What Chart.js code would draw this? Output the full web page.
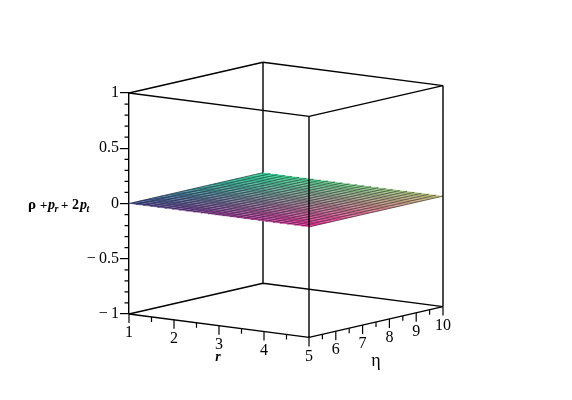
<!DOCTYPE html>
<html>
<head>
<meta charset="utf-8">
<style>html,body{margin:0;padding:0;background:#fff}canvas{display:block}</style>
<script src="https://cdn.jsdelivr.net/npm/chart.js@4"></script>
</head>
<body>
<canvas id="c" width="572" height="400"></canvas>
<script>
// Axis values
const rValues = [1,1.16,1.32,1.48,1.64,1.8,1.96,2.12,2.28,2.44,2.6,2.76,2.92,3.08,3.24,3.4,3.56,3.72,3.88,4.04,4.2,4.36,4.52,4.68,4.84,5];
const etaValues = [5,5.2,5.4,5.6,5.8,6,6.2,6.4,6.6,6.8,7,7.2,7.4,7.6,7.8,8,8.2,8.4,8.6,8.8,9,9.2,9.4,9.6,9.8,10];
// Surface height: flat at zero across the whole r range
const zValues = [0,0,0,0,0,0,0,0,0,0,0,0,0,0,0,0,0,0,0,0,0,0,0,0,0,0];
const rTicks = [1,2,3,4,5];
const rMinorTicks = [1.5,2.5,3.5,4.5];
const etaTicks = [5,6,7,8,9,10];
const etaMinorTicks = [5.5,6.5,7.5,8.5,9.5];
const zTicks = [-1,-0.5,0,0.5,1];
const zMinorTicks = [-0.9,-0.8,-0.7,-0.6,-0.4,-0.3,-0.2,-0.1,0.1,0.2,0.3,0.4,0.6,0.7,0.8,0.9];
const zRange = [-1,1];
const rRange = [1,5];
const etaRange = [5,10];

// Oblique projection of (r, eta, z) on to the chart's two scales
const X_R = 45, X_ETA = 26.8, Y_R = 5.85, Y_ETA = -6.16, PX_PER_Z = 110.5;
const pt = (r, e, z) => ({
  x: (r - 1) * X_R + (e - 5) * X_ETA,
  y: z - ((r - 1) * Y_R + (e - 5) * Y_ETA) / PX_PER_Z
});
const GAP = {x: NaN, y: NaN};
const seg = (a, b) => [a, b, GAP];

const [r0, r1] = rRange, [e0, e1] = etaRange, [z0, z1] = zRange;
const lineDs = (data, width, color) => ({
  type: 'line', data, borderColor: color || '#000', borderWidth: width,
  pointRadius: 0, fill: false, tension: 0, clip: false, spanGaps: false
});

const frontEdges = [
  ...seg(pt(r0,e0,z1), pt(r1,e0,z1)), ...seg(pt(r1,e0,z1), pt(r1,e1,z1)),
  ...seg(pt(r0,e0,z0), pt(r1,e0,z0)), ...seg(pt(r1,e0,z0), pt(r1,e1,z0)),
  ...seg(pt(r0,e0,z1), pt(r0,e1,z1)), ...seg(pt(r0,e1,z1), pt(r1,e1,z1)),
  ...seg(pt(r1,e0,z0), pt(r1,e0,z1)), ...seg(pt(r1,e1,z0), pt(r1,e1,z1))
];
const backEdges = [
  ...seg(pt(r0,e0,z0), pt(r0,e1,z0)), ...seg(pt(r0,e1,z0), pt(r1,e1,z0)),
  ...seg(pt(r0,e1,z0), pt(r0,e1,z1))
];
const TICK = 9 / PX_PER_Z, MINOR = 5 / PX_PER_Z;
const tickMarks = [];
rTicks.forEach(v => { const p = pt(v,e0,z0); tickMarks.push(...seg(p, {x:p.x, y:p.y-TICK})); });
rMinorTicks.forEach(v => { const p = pt(v,e0,z0); tickMarks.push(...seg(p, {x:p.x, y:p.y-MINOR})); });
etaTicks.forEach(v => { const p = pt(r1,v,z0); tickMarks.push(...seg(p, {x:p.x, y:p.y-TICK})); });
etaMinorTicks.forEach(v => { const p = pt(r1,v,z0); tickMarks.push(...seg(p, {x:p.x, y:p.y-MINOR})); });
const axisMinor = [];
zMinorTicks.forEach(v => axisMinor.push(...seg({x:-4.5, y:v}, {x:0, y:v})));

// Surface colour follows position: red with r, green with eta
const C = {ll:[42,52,128], fl:[226,24,140], bl:[20,212,140], fr:[186,186,104]};
function cellColor(u, v) {
  const c = [0,1,2].map(i => Math.round(
    C.ll[i]*(1-u)*(1-v) + C.fl[i]*u*(1-v) + C.bl[i]*(1-u)*v + C.fr[i]*u*v));
  return `rgb(${c[0]},${c[1]},${c[2]})`;
}
const cells = [];
for (let i = 0; i < rValues.length - 1; i++) {
  for (let j = 0; j < etaValues.length - 1; j++) {
    const ra = rValues[i], rb = rValues[i+1], ea = etaValues[j], eb = etaValues[j+1];
    const z = zValues[i];
    const col = cellColor((i+0.5)/(rValues.length-1), (j+0.5)/(etaValues.length-1));
    cells.push({
      type: 'line',
      data: [pt(ra,ea,z), pt(rb,ea,z), pt(rb,eb,z), pt(ra,eb,z), pt(ra,ea,z)],
      backgroundColor: col, fill: 'shape',
      borderColor: col, borderWidth: 0.3,
      pointRadius: 0, tension: 0, clip: false
    });
  }
}
// Wireframe: pale lines along r, dark lines along eta
const meshPale = [], meshDark = [];
etaValues.forEach(e => meshPale.push(...seg(pt(r0,e,0), pt(r1,e,0))));
rValues.forEach(r => meshDark.push(...seg(pt(r,e0,0), pt(r,e1,0))));

const textPlugin = {
  id: 'labels3d',
  afterDraw(chart) {
    const {ctx, scales: {x, y}} = chart;
    const px = p => x.getPixelForValue(p.x), py = p => y.getPixelForValue(p.y);
    ctx.save();
    ctx.fillStyle = '#000';
    ctx.textAlign = 'center';
    ctx.textBaseline = 'middle';
    ctx.font = '16px "Liberation Serif"';
    rTicks.forEach(v => { const p = pt(v,e0,z0); ctx.fillText(String(v), px(p), py(p)+19); });
    etaTicks.slice(1).forEach(v => { const p = pt(r1,v,z0); ctx.fillText(String(v), px(p), py(p)+19); });
    ctx.font = 'italic bold 14px "Liberation Serif"';
    ctx.fillText('r', 218, 357);
    ctx.font = '18px "Liberation Serif"';
    ctx.fillText('η', 376, 361);
    ctx.textAlign = 'left';
    ctx.textBaseline = 'alphabetic';
    const base = 209;
    const parts = [
      ['ρ','bold 15px',28,0], ['+','bold 13px',40,0], ['p','italic bold 14px',48,0],
      ['r','italic bold 10px',54.5,3], ['+','bold 13px',61,0], ['2','bold 14px',72,0],
      ['p','italic bold 14px',80,0], ['t','italic bold 10px',86.5,3]
    ];
    parts.forEach(([s,f,xp,dy]) => { ctx.font = f + ' "Liberation Serif"'; ctx.fillText(s, xp, base+dy); });
    ctx.restore();
  }
};

new Chart(document.getElementById('c'), {
  type: 'line',
  data: {
    datasets: [
      lineDs(frontEdges, 1.4),
      lineDs(tickMarks, 1.2),
      lineDs(axisMinor, 1.2),
      lineDs(meshDark, 0.9, 'rgba(15,15,25,0.6)'),
      lineDs(meshPale, 0.6, 'rgba(255,255,255,0.32)'),
      ...cells,
      lineDs(backEdges, 1.4)
    ]
  },
  plugins: [textPlugin],
  options: {
    responsive: false,
    animation: false,
    events: [],
    layout: {padding: {left: 0, right: 129, top: 93, bottom: 86}},
    plugins: {legend: {display: false}, tooltip: {enabled: false}, title: {display: false}},
    scales: {
      x: {type: 'linear', display: false, min: 0, max: (r1-r0)*X_R + (e1-e0)*X_ETA},
      y: {
        type: 'linear', min: z0, max: z1,
        afterFit(s) { s.width = 129; },
        afterBuildTicks(s) { s.ticks = zTicks.map(v => ({value: v})); },
        grid: {drawOnChartArea: false, drawTicks: true, tickLength: 9, color: '#000', lineWidth: 1.2},
        border: {display: true, color: '#000', width: 1.4},
        ticks: {
          color: '#000', padding: 1, font: {family: '"Liberation Serif"', size: 16},
          callback: v => v < 0 ? '−\u2009' + Math.abs(v) : String(v)
        }
      }
    }
  }
});
</script>
</body>
</html>
